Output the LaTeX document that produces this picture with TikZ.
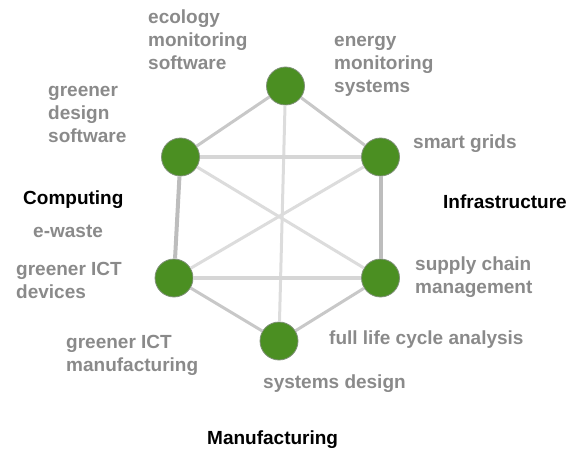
\documentclass[tikz,border=0pt]{standalone}
\usepackage{fontspec}
\setmainfont{Liberation Sans}
\definecolor{nodegreen}{HTML}{4B8F22}
\definecolor{nodeborder}{HTML}{7F8F78}
\definecolor{labelgray}{HTML}{8A8A8A}
\definecolor{edgeA}{HTML}{C8C8C8}
\definecolor{edgeB}{HTML}{BDBDBD}
\definecolor{edgeC}{HTML}{D6D6D6}
\definecolor{edgeD}{HTML}{DCDCDC}
\begin{document}
\begin{tikzpicture}[x=1pt,y=-1pt,
  hub/.style={circle,minimum size=38pt,inner sep=0pt,fill=nodegreen,draw=nodeborder,line width=0.8pt},
  lbl/.style={font=\bfseries\fontsize{19}{23}\selectfont,text=labelgray,inner sep=0pt,anchor=base west,align=left},
  cat/.style={font=\bfseries\fontsize{19}{23}\selectfont,text=black,inner sep=0pt,anchor=base west},
  outer/.style={draw=edgeA,line width=3pt},
  side/.style={draw=edgeB,line width=4pt},
  cross/.style={draw=edgeC,line width=4.5pt},
  diag/.style={draw=edgeD,line width=3pt}]
\useasboundingbox (0,0) rectangle (581,452);
\node[hub] (top) at (285.5,86) {};
\node[hub] (ul) at (180.5,157) {};
\node[hub] (ur) at (380.5,157) {};
\node[hub] (ll) at (174,278) {};
\node[hub] (lr) at (380.5,278) {};
\node[hub] (bot) at (279,341) {};
\draw[diag] (ul) -- (lr);
\draw[diag] (ur) -- (ll);
\draw[diag] (top) -- (bot);
\draw[cross] (ul) -- (ur);
\draw[cross] (ll) -- (lr);
\draw[side] (ul) -- (ll);
\draw[side] (ur) -- (lr);
\draw[outer] (top) -- (ul);
\draw[outer] (top) -- (ur);
\draw[outer] (ll) -- (bot);
\draw[outer] (lr) -- (bot);
\node[lbl] (eco) at (148,69.5) {ecology\\monitoring\\software};
\node[lbl] (gds) at (48,142.5) {greener\\design\\software};
\node[lbl] (ems) at (334,92.5) {energy\\monitoring\\systems};
\node[lbl] (sg) at (413,148.5) {smart grids};
\node[cat] (infra) at (443,208) {Infrastructure};
\node[cat] (comp) at (23,204) {Computing};
\node[lbl] (ew) at (33,237.5) {e-waste};
\node[lbl] (gid) at (16,298.5) {greener ICT\\devices};
\node[lbl] (gim) at (66,371.5) {greener ICT\\manufacturing};
\node[lbl] (scm) at (415,293.5) {supply chain\\management};
\node[lbl] (flc) at (329,344.5) {full life cycle analysis};
\node[lbl] (sd) at (263,388.5) {systems design};
\node[cat] (manu) at (207,444) {Manufacturing};
\end{tikzpicture}
\end{document}
